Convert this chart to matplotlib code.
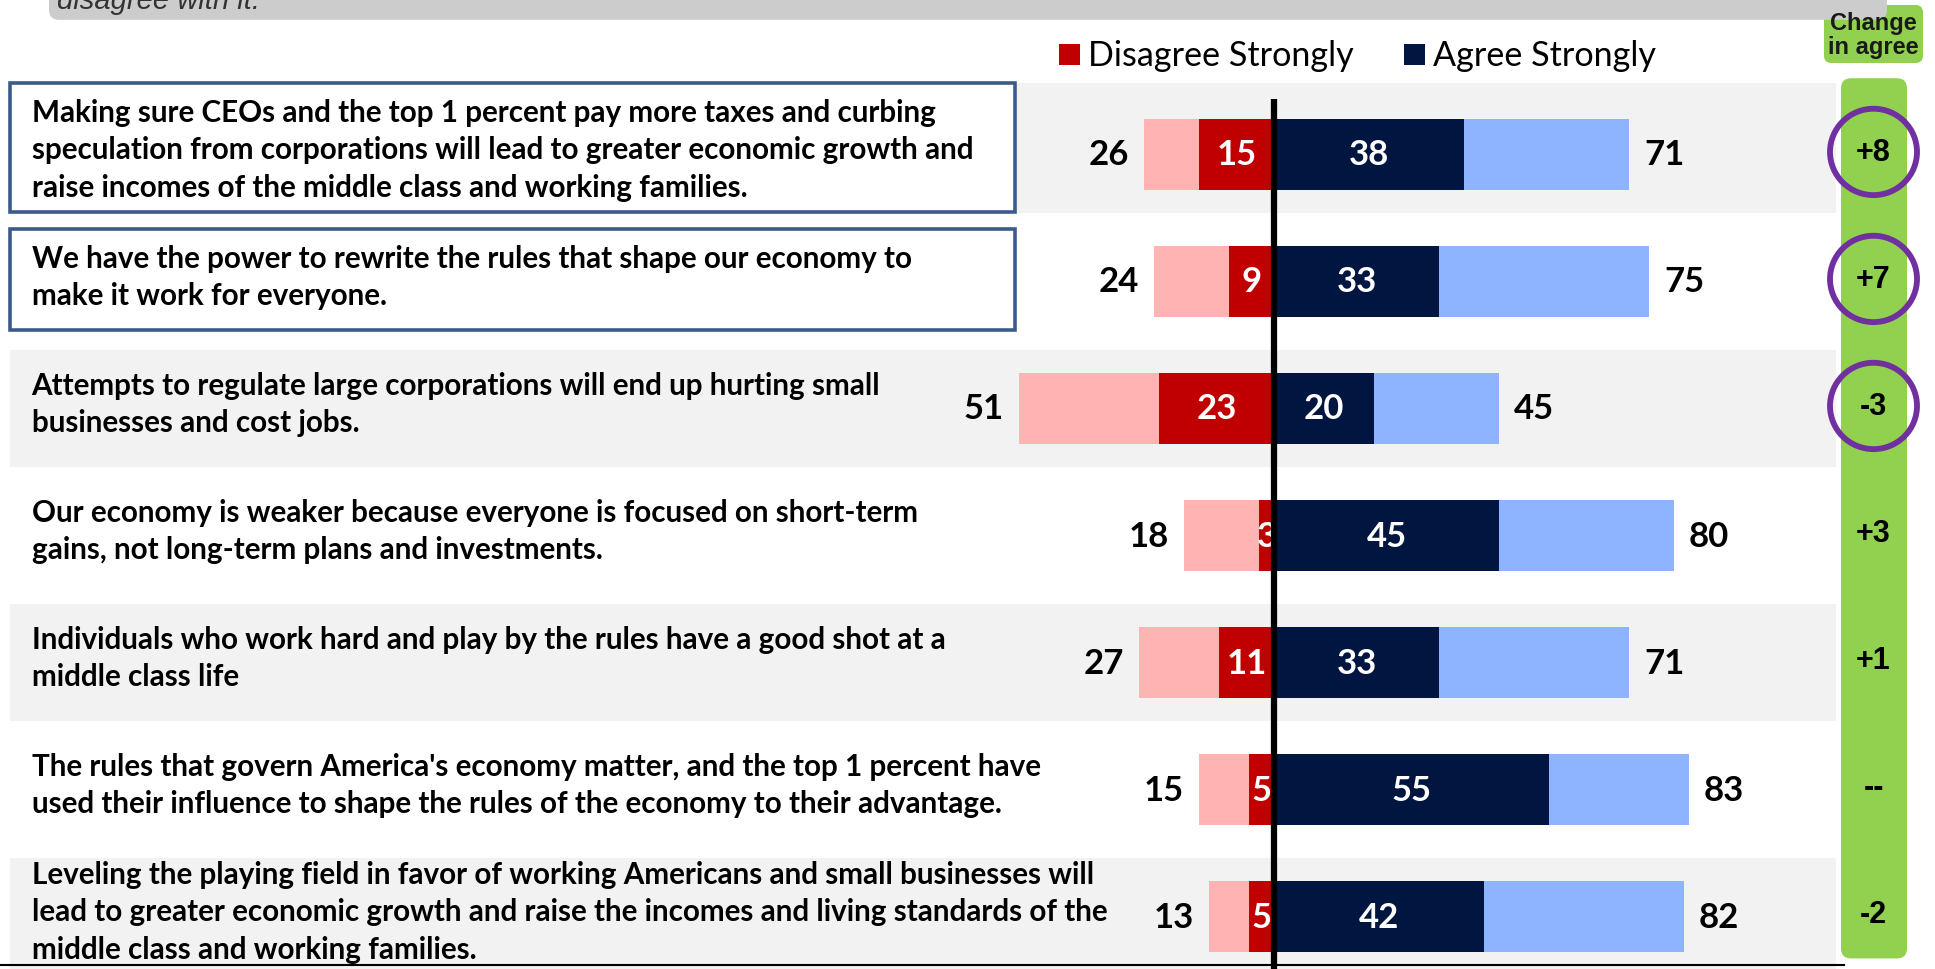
import matplotlib.pyplot as plt
from matplotlib.patches import FancyBboxPatch, Rectangle, Ellipse

statements = [
    "Making sure CEOs and the top 1 percent pay more taxes and curbing\n"
    "speculation from corporations will lead to greater economic growth and\n"
    "raise incomes of the middle class and working families.",
    "We have the power to rewrite the rules that shape our economy to\n"
    "make it work for everyone.",
    "Attempts to regulate large corporations will end up hurting small\n"
    "businesses and cost jobs.",
    "Our economy is weaker because everyone is focused on short-term\n"
    "gains, not long-term plans and investments.",
    "Individuals who work hard and play by the rules have a good shot at a\n"
    "middle class life",
    "The rules that govern America's economy matter, and the top 1 percent have\n"
    "used their influence to shape the rules of the economy to their advantage.",
    "Leveling the playing field in favor of working Americans and small businesses will\n"
    "lead to greater economic growth and raise the incomes and living standards of the\n"
    "middle class and working families.",
]
disagree_total = [26, 24, 51, 18, 27, 15, 13]
disagree_strong = [15, 9, 23, 3, 11, 5, 5]
agree_strong = [38, 33, 20, 45, 33, 55, 42]
agree_total = [71, 75, 45, 80, 71, 83, 82]
change = ["+8", "+7", "-3", "+3", "+1", "--", "-2"]
circled = [True, True, True, False, False, False, False]
boxed = [True, True, False, False, False, False, False]

PINK = "#ffb3b3"
RED = "#c00000"
NAVY = "#001640"
LBLUE = "#8fb4ff"
BAND = "#f2f2f2"
GREEN = "#92d050"
PURPLE = "#7030a0"
BOXEDGE = "#3c5a8a"

FONT = ["Lato", "DejaVu Sans"]
ARIAL = ["Liberation Sans", "DejaVu Sans"]

fig = plt.figure(figsize=(19.35, 9.7), dpi=100)
ax = fig.add_axes([0, 0, 1, 1])
# 1 x unit = 5 px, 1 row = 127 px; centre line at 1274 px
ax.set_xlim(-254.8, 132.2)
ax.set_ylim(6.413, -1.224)
ax.axis("off")
asp = 5 / 127

n = len(statements)
rows = list(range(n))

# background bands
for i in rows:
    if i % 2 == 0:
        top = -0.56 if i == 0 else -0.46
        ax.add_patch(Rectangle((-252.8, i + top), 365.2, 0.46 - top,
                               color=BAND, zorder=0, lw=0))

# boxed statements
for i in rows:
    if boxed[i]:
        y0, h = (-0.56, 1.01) if i == 0 else (-0.41, 0.79)
        ax.add_patch(Rectangle((-252.8, i + y0), 201, h, facecolor="white",
                               edgecolor=BOXEDGE, lw=2.6, zorder=1))

# statement text
for i in rows:
    ax.text(-248.5, i - 0.04, statements[i], ha="left", va="center",
            fontsize=21.3, fontweight="bold", family=FONT, linespacing=1.42,
            zorder=3)

bh = 0.56
ax.barh(rows, [-v for v in disagree_total], height=bh, color=PINK, zorder=2)
ax.barh(rows, [-v for v in disagree_strong], height=bh, color=RED, zorder=2)
ax.barh(rows, agree_total, height=bh, color=LBLUE, zorder=2)
ax.barh(rows, agree_strong, height=bh, color=NAVY, zorder=2)

for i in rows:
    ax.text(-disagree_total[i] - 3, i, str(disagree_total[i]), ha="right",
            va="center", fontsize=25, fontweight="bold", family=FONT, zorder=3)
    ax.text(agree_total[i] + 3, i, str(agree_total[i]), ha="left",
            va="center", fontsize=25, fontweight="bold", family=FONT, zorder=3)
    ax.text(-disagree_strong[i] / 2, i, str(disagree_strong[i]), ha="center",
            va="center", fontsize=25, fontweight="bold", family=FONT,
            color="white", zorder=3)
    ax.text(agree_strong[i] / 2, i, str(agree_strong[i]), ha="center",
            va="center", fontsize=25, fontweight="bold", family=FONT,
            color="white", zorder=3)

# centre line
ax.plot([0, 0], [-0.44, 6.413], color="black", lw=4.5, zorder=4,
        solid_capstyle="butt")
# bottom rule
ax.plot([-254.8, 114], [6.38, 6.38], color="black", lw=1.5, zorder=4)

# legend
ly = -0.787
ax.add_patch(Rectangle((-43, ly - 0.083), 4.2, 0.166, color=RED, lw=0))
ax.text(-37.2, ly, "Disagree Strongly", ha="left", va="center", fontsize=24.6,
        family=FONT)
ax.add_patch(Rectangle((26, ly - 0.083), 4.2, 0.166, color=NAVY, lw=0))
ax.text(31.8, ly, "Agree Strongly", ha="left", va="center", fontsize=24.6,
        family=FONT)

# change column
ax.add_patch(FancyBboxPatch((113.4, -0.6), 13.2, 6.93,
                            boxstyle="round,pad=0,rounding_size=2",
                            mutation_aspect=asp, facecolor=GREEN, lw=0,
                            zorder=1))
ax.add_patch(FancyBboxPatch((110, -1.177), 19.8, 0.457,
                            boxstyle="round,pad=0,rounding_size=1.5",
                            mutation_aspect=asp, facecolor=GREEN, lw=0,
                            zorder=1))
ax.text(119.9, -0.945, "Change\nin agree", ha="center", va="center",
        fontsize=17, fontweight="bold", family=ARIAL, color="#1a1a1a",
        linespacing=1.05, zorder=3)
for i in rows:
    ax.text(119.9, i - 0.02, change[i], ha="center", va="center",
            fontsize=22, fontweight="bold", family=ARIAL, zorder=3)
    if circled[i]:
        ax.add_patch(Ellipse((119.9, i - 0.02), 17.4, 0.68, facecolor="none",
                             edgecolor=PURPLE, lw=4.2, zorder=4))

# top banner (cut off)
ax.add_patch(FancyBboxPatch((-245, -1.6), 367.6, 0.54,
                            boxstyle="round,pad=0,rounding_size=2",
                            mutation_aspect=asp, facecolor="#cccccc", lw=0,
                            zorder=1))
ax.text(-243.5, -1.215, "disagree with it.", ha="left", va="center",
        fontsize=21, style="italic", family=ARIAL, color="#333333", zorder=3)

fig.savefig("out.png", dpi=100)
